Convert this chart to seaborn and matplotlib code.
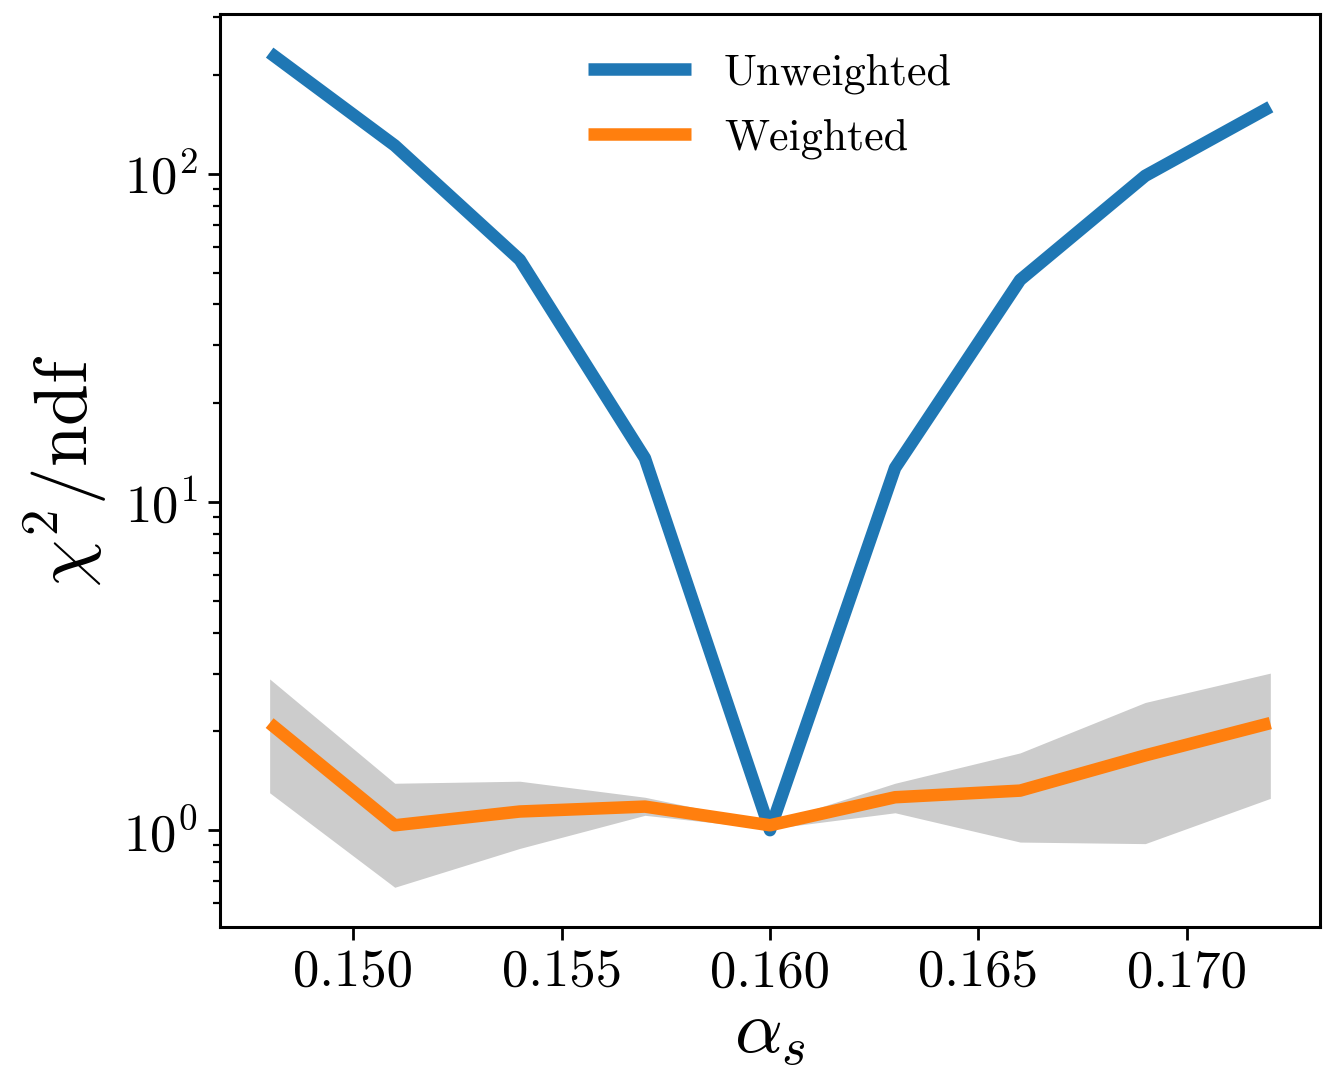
import numpy as np
import pandas as pd
import matplotlib
matplotlib.use("Agg")
import matplotlib.pyplot as plt
import seaborn as sns

# Strong coupling scan points
alpha_s = [0.148, 0.151, 0.154, 0.157, 0.160, 0.163, 0.166, 0.169, 0.172]

# chi^2 / ndf for each fit
chi2_unweighted = [234.0, 122.0, 54.7, 13.6, 1.0, 12.7, 47.5, 98.6, 160.0]
chi2_weighted = [2.12, 1.035, 1.14, 1.18, 1.035, 1.26, 1.32, 1.69, 2.12]

# uncertainty band of the weighted fit
weighted_low = [1.30, 0.67, 0.88, 1.11, 1.01, 1.13, 0.92, 0.91, 1.25]
weighted_high = [2.89, 1.39, 1.41, 1.26, 1.05, 1.39, 1.72, 2.45, 3.01]

sns.set_style("ticks")
plt.rcParams["font.family"] = "serif"
plt.rcParams["font.serif"] = ["cmr10", "DejaVu Serif"]
plt.rcParams["mathtext.fontset"] = "cm"
plt.rcParams["axes.formatter.use_mathtext"] = True
plt.rcParams["axes.unicode_minus"] = False
plt.rcParams["lines.solid_capstyle"] = "butt"
for key in ["text.color", "axes.labelcolor", "xtick.color", "ytick.color",
            "xtick.labelcolor", "ytick.labelcolor", "axes.edgecolor"]:
    plt.rcParams[key] = "black"

df = pd.DataFrame({
    "alpha_s": alpha_s * 2,
    "chi2": chi2_unweighted + chi2_weighted,
    "fit": ["Unweighted"] * len(alpha_s) + ["Weighted"] * len(alpha_s),
})

fig = plt.figure(figsize=(6.655, 5.36), dpi=200)
ax = fig.add_axes([0.165, 0.135, 0.827, 0.852])

ax.fill_between(alpha_s, weighted_low, weighted_high, color="0.8", linewidth=0, zorder=1)
sns.lineplot(data=df, x="alpha_s", y="chi2", hue="fit",
             palette=["#1f77b4", "#ff7f0e"], linewidth=4.5, ax=ax, zorder=2)
for line in ax.get_lines():
    line.set_solid_capstyle("butt")

ax.set_yscale("log")
ax.set_ylim(0.506, 307)
ax.set_xlim(0.1468, 0.1732)
ax.set_xticks([0.150, 0.155, 0.160, 0.165, 0.170])
ax.set_xticklabels(["0.150", "0.155", "0.160", "0.165", "0.170"])
ax.minorticks_on()
ax.xaxis.set_minor_locator(matplotlib.ticker.NullLocator())

ax.tick_params(axis="both", which="major", labelsize=19, length=4.5, width=1.0,
               color="black", labelcolor="black")
ax.tick_params(axis="y", which="minor", length=2.5, width=0.8, color="black")
for sp in ax.spines.values():
    sp.set_linewidth(1.1)
    sp.set_color("black")

ax.set_xlabel(r"$\alpha_s$", fontsize=27, labelpad=2, color="black")
ax.set_ylabel(r"$\chi^2/\mathrm{ndf}$", fontsize=27, labelpad=5, color="black")

leg = ax.legend(loc="upper center", frameon=False, fontsize=15.8, handlelength=2.35,
                handletextpad=0.75, labelspacing=0.55, borderaxespad=0.5)
for line in leg.get_lines():
    line.set_linewidth(4.5)
    line.set_solid_capstyle("butt")
for t in leg.get_texts():
    t.set_color("black")

fig.savefig("out.png", dpi=200)
